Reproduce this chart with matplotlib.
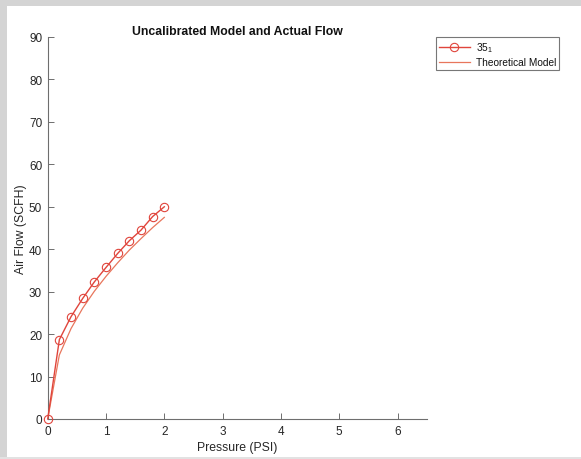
import matplotlib
matplotlib.use("Agg")
import matplotlib.pyplot as plt
from matplotlib.patches import Rectangle
from matplotlib.lines import Line2D

plt.rcParams['font.family'] = ['Liberation Sans', 'DejaVu Sans']
plt.rcParams['mathtext.fontset'] = 'custom'
plt.rcParams['mathtext.rm'] = 'Liberation Sans'

# Measured flow (SCFH) against applied pressure (PSI)
pressure = [0.0, 0.2, 0.4, 0.6, 0.8, 1.0, 1.2, 1.4, 1.6, 1.8, 2.0]
measured_flow = [0.0, 18.7, 24.1, 28.4, 32.3, 35.7, 39.0, 42.0, 44.5, 47.7, 50.0]
# Uncalibrated theoretical prediction at the same pressures
model_flow = [0.0, 15.1, 21.3, 26.1, 30.1, 33.6, 36.8, 39.8, 42.5, 45.1, 47.5]

x_ticks = [0, 1, 2, 3, 4, 5, 6]
y_ticks = [0, 10, 20, 30, 40, 50, 60, 70, 80, 90]

W, H = 581, 460
fig = plt.figure(figsize=(W / 100, H / 100), dpi=100)
fig.patch.set_facecolor('white')

# window frame around the figure
frame_col = '#d4d4d4'
for rect in [((0, 1 - 7 / H), 1, 7 / H, frame_col),
             ((0, 0), 7 / W, 1, frame_col),
             ((0, 0), 1, 2 / H, '#e2e2e2')]:
    fig.add_artist(Rectangle(rect[0], rect[1], rect[2], transform=fig.transFigure,
                             facecolor=rect[3], edgecolor='none', zorder=-5))

ax = fig.add_axes([47.7 / W, 40 / H, (426.7 - 47.7) / W, (420 - 38) / H])
ax.patch.set_alpha(0)

data_col = '#e0453c'
model_col = '#e8765c'
ms = 6.0
ax.plot(pressure, measured_flow, color=data_col, lw=1.0, marker='o',
        markersize=ms, markerfacecolor='none', markeredgecolor=data_col,
        markeredgewidth=0.8, zorder=3, clip_on=False)
ax.plot(pressure, model_flow, color=model_col, lw=0.9, zorder=2)

ax.set_xlim(0, 6.5)
ax.set_ylim(0, 90)
ax.set_xticks(x_ticks)
ax.set_yticks(y_ticks)

for side in ('top', 'right'):
    ax.spines[side].set_visible(False)
for side in ('left', 'bottom'):
    ax.spines[side].set_color('#6e6e6e')
    ax.spines[side].set_linewidth(0.8)
ax.tick_params(direction='in', length=4, width=0.7, color='#6e6e6e',
               labelsize=8.5, labelcolor='#262626', pad=4)

ax.set_xlabel('Pressure (PSI)', fontsize=8.8, color='#262626', labelpad=3)
ax.set_ylabel('Air Flow (SCFH)', fontsize=8.8, color='#262626', labelpad=1.5)
ax.set_title('Uncalibrated Model and Actual Flow', fontsize=8.8,
             fontweight='bold', color='#111111', pad=2)

handles = [
    Line2D([], [], color=data_col, lw=1.0, marker='o', markersize=ms,
           markerfacecolor='none', markeredgecolor=data_col, markeredgewidth=0.8),
    Line2D([], [], color=model_col, lw=0.9),
]
leg = fig.legend(handles, [r'$\mathregular{35_1}$', 'Theoretical Model'],
                 loc='upper left',
                 bbox_to_anchor=(435.7 / W, 1 - 38.3 / H),
                 fontsize=7.3, frameon=True, fancybox=False,
                 handlelength=3.05, handletextpad=0.6, borderpad=0.3,
                 labelspacing=0.3, borderaxespad=0)
leg.get_frame().set_edgecolor('#555555')
leg.get_frame().set_linewidth(0.8)
for t in leg.get_texts():
    t.set_color('#111111')

fig.savefig('out.png', dpi=100, facecolor='white')
